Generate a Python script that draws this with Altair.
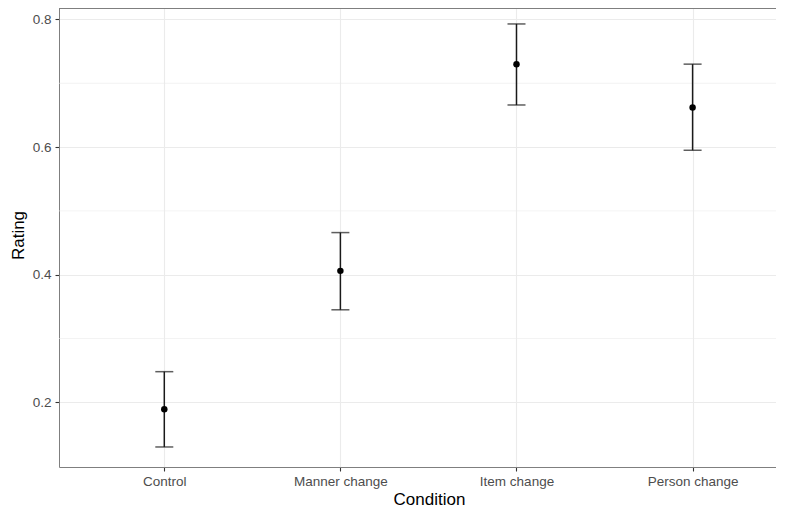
import altair as alt
import pandas as pd

conditions = ["Control", "Manner change", "Item change", "Person change"]
means = [0.189, 0.406, 0.730, 0.662]
lower = [0.130, 0.345, 0.666, 0.595]
upper = [0.248, 0.466, 0.793, 0.730]
major_ticks = [0.2, 0.4, 0.6, 0.8]
minor_ticks = [0.3, 0.5, 0.7]

df = pd.DataFrame({"Condition": conditions, "Rating": means, "lo": lower, "hi": upper})
minor_df = pd.DataFrame({"v": minor_ticks})

FONT = "Liberation Sans"

x_axis = alt.Axis(
    title="Condition", grid=True, gridColor="#EBEBEB", gridWidth=1.1,
    domain=True, domainColor="#7F7F7F", domainWidth=1,
    ticks=True, tickColor="#333333", tickSize=4, tickWidth=1.1,
    labelColor="#4D4D4D", labelFontSize=13.5, labelFont=FONT, labelPadding=3, labelAngle=0,
    titleFont=FONT, titleFontSize=17, titleFontWeight="normal", titleColor="#000000",
    titlePadding=4, titleX=370,
)
y_axis = alt.Axis(
    title="Rating", values=major_ticks, format=".1f",
    grid=True, gridColor="#EBEBEB", gridWidth=1.1,
    domain=True, domainColor="#7F7F7F", domainWidth=1,
    ticks=True, tickColor="#333333", tickSize=4, tickWidth=1.1,
    labelColor="#4D4D4D", labelFontSize=13.5, labelFont=FONT, labelPadding=4,
    titleFont=FONT, titleFontSize=17, titleFontWeight="normal", titleColor="#000000",
    titlePadding=5, titleY=227,
)

x_enc = alt.X(
    "Condition:N",
    sort=conditions,
    scale=alt.Scale(type="point", padding=0.5358, align=0.558),
    axis=x_axis,
)
y_scale = alt.Scale(domain=[0.0986, 0.818], nice=False, zero=False)

minor = alt.Chart(minor_df).mark_rule(color="#EBEBEB", strokeWidth=0.6).encode(
    y=alt.Y("v:Q", scale=y_scale, axis=y_axis)
)

top_border = alt.Chart(minor_df).mark_rule(color="#7F7F7F", strokeWidth=1).encode(
    y=alt.value(0.5)
)

base = alt.Chart(df)

bars = base.mark_rule(color="#1A1A1A", strokeWidth=1.5).encode(
    x=x_enc,
    y=alt.Y("lo:Q", scale=y_scale, axis=y_axis),
    y2="hi:Q",
)
cap_lo = base.mark_tick(color="#1A1A1A", thickness=1.5, size=18).encode(
    x=x_enc, y=alt.Y("lo:Q", scale=y_scale, axis=y_axis)
)
cap_hi = base.mark_tick(color="#1A1A1A", thickness=1.5, size=18).encode(
    x=x_enc, y=alt.Y("hi:Q", scale=y_scale, axis=y_axis)
)
points = base.mark_circle(color="#000000", opacity=1, size=42).encode(
    x=x_enc, y=alt.Y("Rating:Q", scale=y_scale, axis=y_axis)
)

chart = alt.layer(minor, bars, cap_lo, cap_hi, points, top_border).properties(
    width=717, height=459,
    autosize=alt.AutoSizeParams(type="none"),
    padding={"left": 51, "top": 0, "right": 0, "bottom": 41},
    background="white",
).configure_view(stroke=None)

chart.save("out.html", embed_options={"renderer": "svg", "actions": False})
